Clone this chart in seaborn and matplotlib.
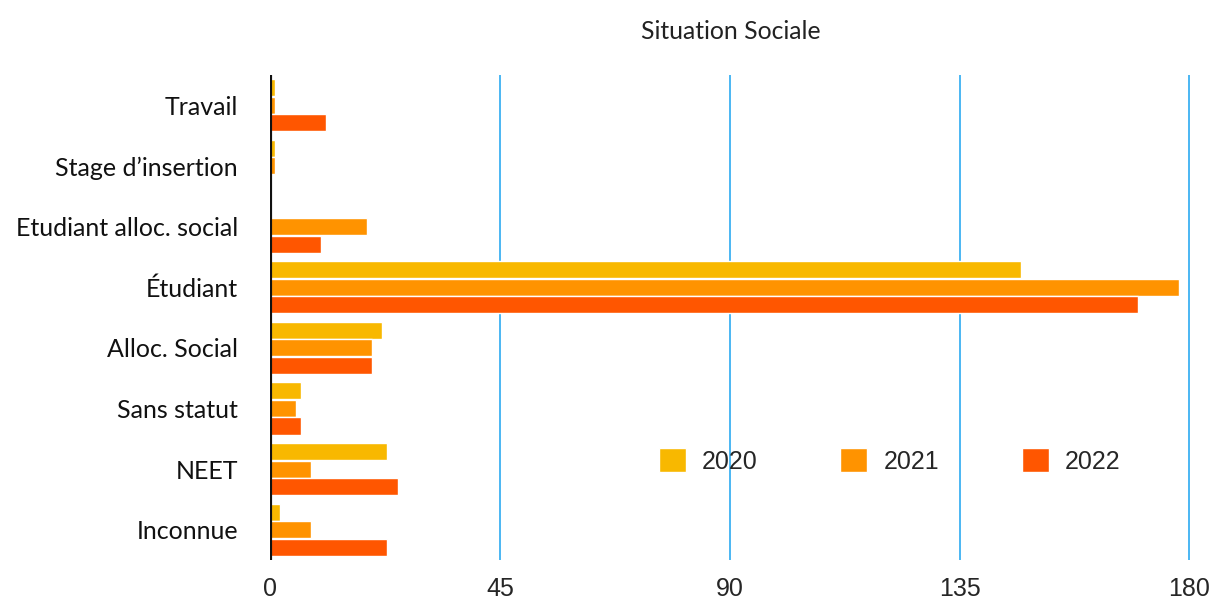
import matplotlib
matplotlib.use("Agg")
import matplotlib.pyplot as plt
import seaborn as sns
import pandas as pd
from matplotlib import font_manager

categories = ["Travail", "Stage d\u2019insertion", "Etudiant alloc. social", "\u00c9tudiant",
              "Alloc. Social", "Sans statut", "NEET", "Inconnue"]
years = ["2020", "2021", "2022"]
values_2020 = [1, 1, 0, 147, 22, 6, 23, 2]
values_2021 = [1, 1, 19, 178, 20, 5, 8, 8]
values_2022 = [11, 0, 10, 170, 20, 6, 25, 23]
x_ticks = [0, 45, 90, 135, 180]
palette = ["#F8B800", "#FF9300", "#FF5600"]

rows = []
for yr, vals in zip(years, [values_2020, values_2021, values_2022]):
    for cat, v in zip(categories, vals):
        rows.append({"Situation": cat, "Année": yr, "Nombre": v})
df = pd.DataFrame(rows)

sns.set_theme(style="white")
installed = {f.name for f in font_manager.fontManager.ttflist}
narrow = "Liberation Sans Narrow" if "Liberation Sans Narrow" in installed else "Liberation Sans"
plt.rcParams["font.family"] = ["Lato", "DejaVu Sans"]

fig = plt.figure(figsize=(12.16, 5.99), dpi=100)
ax = fig.add_axes([270 / 1216, 1 - 560 / 599, (1192 - 270) / 1216, (560 - 75) / 599])

sns.barplot(data=df, y="Situation", x="Nombre", hue="Année", order=categories,
            hue_order=years, palette=palette, orient="h", width=0.87, gap=0.03,
            saturation=1, ax=ax, zorder=3)

ax.set_xlim(0, 180.5)
ax.set_ylim(len(categories) - 0.5, -0.5)
ax.set_xticks(x_ticks)
tick_font = font_manager.FontProperties(family=narrow, size=18)
ax.set_xticklabels([str(t) for t in x_ticks], fontproperties=tick_font)
ax.tick_params(axis="x", length=0, pad=12)
ax.tick_params(axis="y", length=0, pad=23, labelsize=18)
for lbl in ax.get_yticklabels():
    lbl.set_color("#111111")
ax.set_xlabel("")
ax.set_ylabel("")

for s in ["top", "right", "bottom", "left"]:
    ax.spines[s].set_visible(False)
ax.axvline(0, color="#111111", lw=3, zorder=5)
for t in x_ticks[1:]:
    ax.axvline(t, color="#1AA3F0", lw=1.1, zorder=1)

ax.set_title("Situation Sociale", fontsize=17.8, color="#222222", pad=26)

handles, labels = ax.get_legend_handles_labels()
legend_font = font_manager.FontProperties(family="Liberation Sans", size=18)
ax.legend(handles, labels, loc="center", bbox_to_anchor=(0.672, 0.204), ncol=3,
          frameon=False, prop=legend_font,
          handlelength=1.08, handleheight=1.08, handletextpad=0.65, columnspacing=3.3)

fig.savefig("out.png", dpi=100)
